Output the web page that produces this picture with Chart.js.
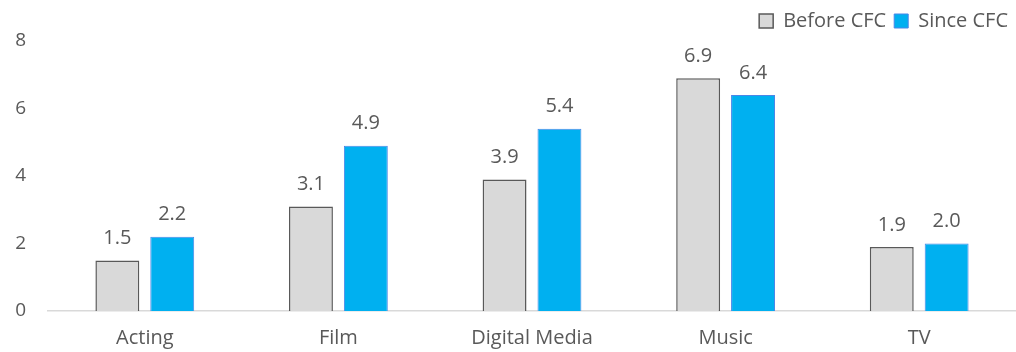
<!DOCTYPE html>
<html>
<head>
<meta charset="utf-8">
<script src="https://cdn.jsdelivr.net/npm/chart.js@4"></script>
<style>
  html, body { margin: 0; padding: 0; background: #fff; }
  #wrap { width: 1016px; height: 352px; }
</style>
</head>
<body>
<div id="wrap"><canvas id="cfcChart"></canvas></div>
<script>
// categories and values per series
const categories = ['Acting', 'Film', 'Digital Media', 'Music', 'TV'];
const beforeCFC = [1.5, 3.1, 3.9, 6.9, 1.9];
const sinceCFC = [2.2, 4.9, 5.4, 6.4, 2.0];
const yTicks = [0, 2, 4, 6, 8];

const textColor = '#595959';
const fontFamily = "'Open Sans', 'Noto Sans', sans-serif";

// small plugin to write the value above each bar
const valueLabels = {
  id: 'valueLabels',
  afterDatasetsDraw(chart) {
    const ctx = chart.ctx;
    ctx.save();
    ctx.font = '20px ' + fontFamily;
    ctx.fillStyle = textColor;
    ctx.textAlign = 'center';
    ctx.textBaseline = 'bottom';
    chart.data.datasets.forEach((ds, i) => {
      chart.getDatasetMeta(i).data.forEach((bar, j) => {
        ctx.fillText(ds.data[j].toFixed(1), bar.x, bar.y - 12);
      });
    });
    ctx.restore();
  },
};

const chartdata = {
  labels: categories,
  datasets: [
    {
      label: 'Before CFC',
      data: beforeCFC,
      backgroundColor: '#d9d9d9',
      borderColor: '#595959',
      borderWidth: 1.5,
      barPercentage: 0.8,
      categoryPercentage: 0.567,
    },
    {
      label: 'Since CFC',
      data: sinceCFC,
      backgroundColor: '#00b0f0',
      borderColor: '#4a86e8',
      borderWidth: 1,
      barPercentage: 0.8,
      categoryPercentage: 0.567,
    },
  ],
};

const chartconfig = {
  type: 'bar',
  data: chartdata,
  plugins: [valueLabels],
  options: {
    responsive: true,
    maintainAspectRatio: false,
    animation: false,
    layout: { padding: { top: 3, right: 0, left: 0, bottom: 0 } },
    scales: {
      x: {
        afterFit: (scale) => { scale.height = 41; },
        grid: { display: false, drawTicks: false },
        border: { display: true, color: '#d9d9d9', width: 1.5 },
        ticks: { color: textColor, font: { size: 20, family: fontFamily }, padding: 15 },
      },
      y: {
        min: 0,
        max: 8,
        afterBuildTicks: (scale) => { scale.ticks = yTicks.map((v) => ({ value: v })); },
        afterFit: (scale) => { scale.width = 48; },
        grid: { display: false, drawTicks: false },
        border: { display: false },
        ticks: {
          color: textColor,
          font: { size: 19, family: fontFamily },
          padding: 22,
        },
      },
    },
    plugins: {
      legend: {
        display: true,
        position: 'top',
        align: 'end',
        labels: {
          color: textColor,
          font: { size: 20, family: fontFamily },
          boxWidth: 14,
          boxHeight: 14,
          padding: 8,
        },
      },
      tooltip: { enabled: false },
      title: { display: false },
    },
  },
};

const chart = new Chart('cfcChart', chartconfig);
</script>
</body>
</html>
